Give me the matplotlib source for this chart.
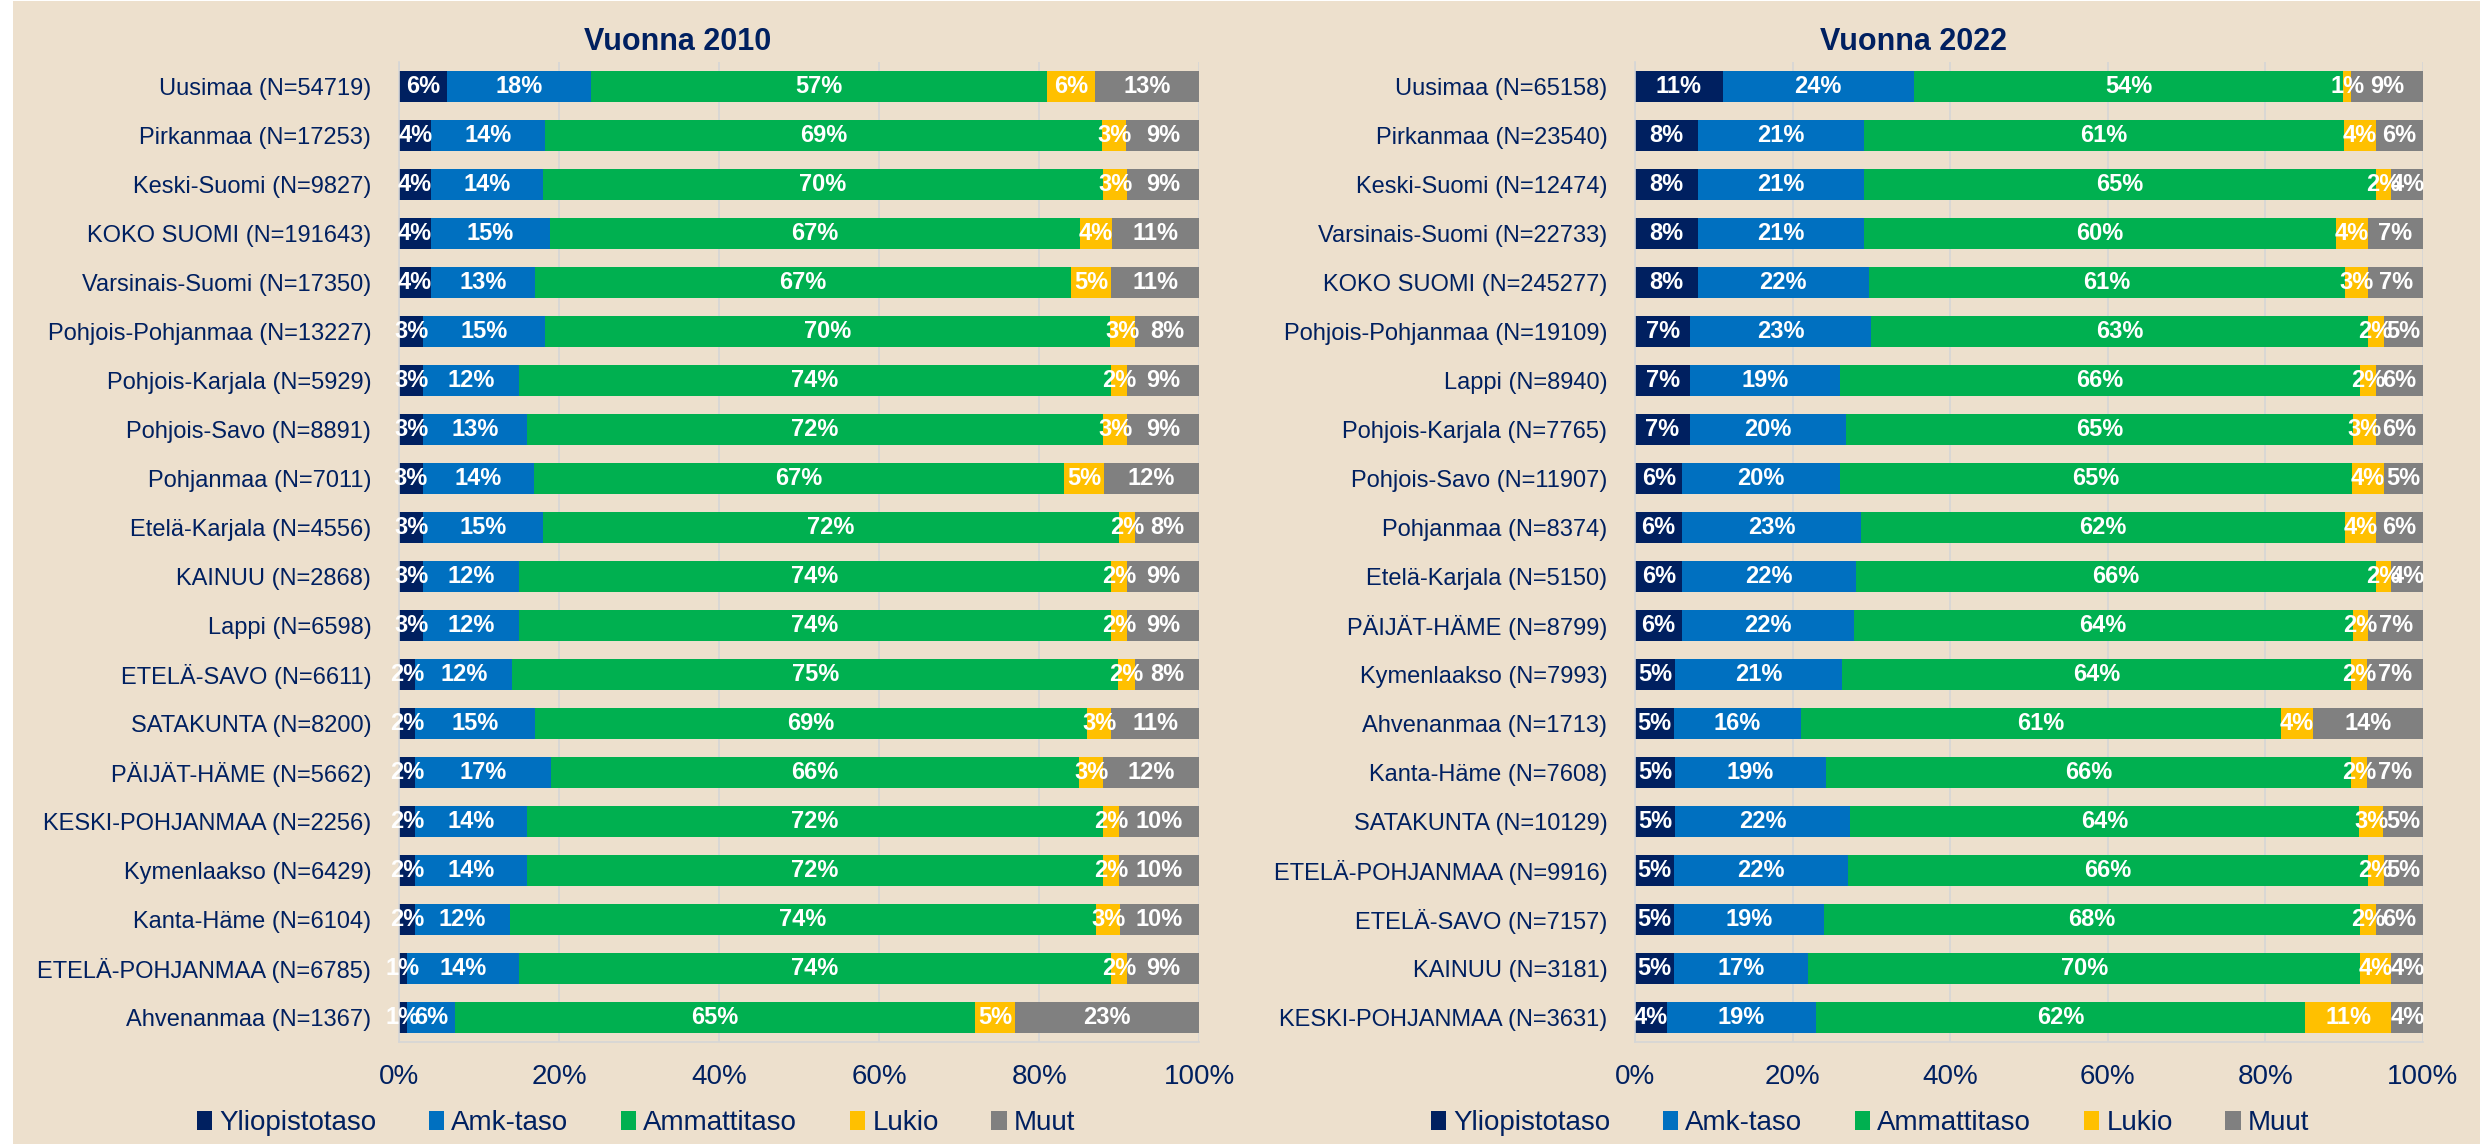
import numpy as np
import matplotlib.pyplot as plt
from matplotlib.patches import Rectangle

plt.rcParams['font.family'] = ['Liberation Sans', 'DejaVu Sans']

NAVY = '#002060'
BG = '#EDE0CD'
GRID = '#D6D6D6'

series = ['Yliopistotaso', 'Amk-taso', 'Ammattitaso', 'Lukio', 'Muut']
colors = ['#002060', '#0070C0', '#00B050', '#FFC000', '#808080']

# Vuonna 2010
regions_2010 = [
    'Uusimaa (N=54719)', 'Pirkanmaa (N=17253)', 'Keski-Suomi (N=9827)',
    'KOKO SUOMI (N=191643)', 'Varsinais-Suomi (N=17350)', 'Pohjois-Pohjanmaa (N=13227)',
    'Pohjois-Karjala (N=5929)', 'Pohjois-Savo (N=8891)', 'Pohjanmaa (N=7011)',
    'Etelä-Karjala (N=4556)', 'KAINUU (N=2868)', 'Lappi (N=6598)',
    'ETELÄ-SAVO (N=6611)', 'SATAKUNTA (N=8200)', 'PÄIJÄT-HÄME (N=5662)',
    'KESKI-POHJANMAA (N=2256)', 'Kymenlaakso (N=6429)', 'Kanta-Häme (N=6104)',
    'ETELÄ-POHJANMAA (N=6785)', 'Ahvenanmaa (N=1367)',
]
yliopisto_2010 = [6, 4, 4, 4, 4, 3, 3, 3, 3, 3, 3, 3, 2, 2, 2, 2, 2, 2, 1, 1]
amk_2010 = [18, 14, 14, 15, 13, 15, 12, 13, 14, 15, 12, 12, 12, 15, 17, 14, 14, 12, 14, 6]
ammatti_2010 = [57, 69, 70, 67, 67, 70, 74, 72, 67, 72, 74, 74, 75, 69, 66, 72, 72, 74, 74, 65]
lukio_2010 = [6, 3, 3, 4, 5, 3, 2, 3, 5, 2, 2, 2, 2, 3, 3, 2, 2, 3, 2, 5]
muut_2010 = [13, 9, 9, 11, 11, 8, 9, 9, 12, 8, 9, 9, 8, 11, 12, 10, 10, 10, 9, 23]

# Vuonna 2022
regions_2022 = [
    'Uusimaa (N=65158)', 'Pirkanmaa (N=23540)', 'Keski-Suomi (N=12474)',
    'Varsinais-Suomi (N=22733)', 'KOKO SUOMI (N=245277)', 'Pohjois-Pohjanmaa (N=19109)',
    'Lappi (N=8940)', 'Pohjois-Karjala (N=7765)', 'Pohjois-Savo (N=11907)',
    'Pohjanmaa (N=8374)', 'Etelä-Karjala (N=5150)', 'PÄIJÄT-HÄME (N=8799)',
    'Kymenlaakso (N=7993)', 'Ahvenanmaa (N=1713)', 'Kanta-Häme (N=7608)',
    'SATAKUNTA (N=10129)', 'ETELÄ-POHJANMAA (N=9916)', 'ETELÄ-SAVO (N=7157)',
    'KAINUU (N=3181)', 'KESKI-POHJANMAA (N=3631)',
]
yliopisto_2022 = [11, 8, 8, 8, 8, 7, 7, 7, 6, 6, 6, 6, 5, 5, 5, 5, 5, 5, 5, 4]
amk_2022 = [24, 21, 21, 21, 22, 23, 19, 20, 20, 23, 22, 22, 21, 16, 19, 22, 22, 19, 17, 19]
ammatti_2022 = [54, 61, 65, 60, 61, 63, 66, 65, 65, 62, 66, 64, 64, 61, 66, 64, 66, 68, 70, 62]
lukio_2022 = [1, 4, 2, 4, 3, 2, 2, 3, 4, 4, 2, 2, 2, 4, 2, 3, 2, 2, 4, 11]
muut_2022 = [9, 6, 4, 7, 7, 5, 6, 6, 5, 6, 4, 7, 7, 14, 7, 5, 5, 6, 4, 4]


def stacked_panel(ax, labels, cols, title, title_x):
    data = np.array(cols, dtype=float).T
    # 100 % stacked: each row scaled to full width, labels keep the rounded shares
    shares = data / data.sum(axis=1, keepdims=True) * 100
    y = np.arange(len(labels))
    left = np.zeros(len(labels))
    for j, name in enumerate(series):
        ax.barh(y, shares[:, j], left=left, height=0.65, color=colors[j],
                label=name, zorder=2)
        for i in range(len(labels)):
            ax.text(left[i] + shares[i, j] / 2, y[i], f'{int(data[i, j])}%',
                    ha='center', va='center', color='white', fontsize=17,
                    fontweight='bold', zorder=3, clip_on=False)
        left += shares[:, j]

    ax.set_xlim(0, 100)
    ax.set_ylim(len(labels) - 0.5, -0.5)
    ax.set_yticks(y)
    ax.set_yticklabels(labels, fontsize=17, color=NAVY)
    ax.set_xticks(np.arange(0, 101, 20))
    ax.set_xticklabels([f'{v}%' for v in range(0, 101, 20)], fontsize=20, color=NAVY)
    ax.tick_params(axis='y', length=0, pad=20)
    ax.tick_params(axis='x', length=0, pad=16)
    ax.set_facecolor('none')
    ax.grid(axis='x', color=GRID, linewidth=1.2, zorder=0)
    for side in ['top', 'right']:
        ax.spines[side].set_visible(False)
    for side in ['left', 'bottom']:
        ax.spines[side].set_color(GRID)
        ax.spines[side].set_linewidth(1.2)

    fig.text(title_x, 0.9633, title, ha='center', va='center', fontsize=22,
             fontweight='bold', color=NAVY)


fig = plt.figure(figsize=(24.91, 11.44), dpi=100, facecolor='white')
fig.patches.append(Rectangle((13 / 2491, 0), (2480 - 13) / 2491, 1 - 1 / 1144,
                             transform=fig.transFigure, facecolor=BG,
                             edgecolor='none', zorder=-10))

ax1 = fig.add_axes([0.1602, 0.0892, 0.3212, 0.8566])
ax2 = fig.add_axes([0.6564, 0.0892, 0.3163, 0.8566])

stacked_panel(ax1, regions_2010,
              [yliopisto_2010, amk_2010, ammatti_2010, lukio_2010, muut_2010],
              'Vuonna 2010', 0.2722)
stacked_panel(ax2, regions_2022,
              [yliopisto_2022, amk_2022, ammatti_2022, lukio_2022, muut_2022],
              'Vuonna 2022', 0.7680)

for ax, lx in [(ax1, 0.2553), (ax2, 0.7507)]:
    handles, names = ax.get_legend_handles_labels()
    leg = fig.legend(handles, names, loc='center', bbox_to_anchor=(lx, 0.0184),
                     ncol=5, frameon=False, fontsize=20, handlelength=0.55,
                     handleheight=0.7, handletextpad=0.25, columnspacing=1.9)
    for t in leg.get_texts():
        t.set_color(NAVY)

fig.savefig('out.png', dpi=100, facecolor=fig.get_facecolor())
